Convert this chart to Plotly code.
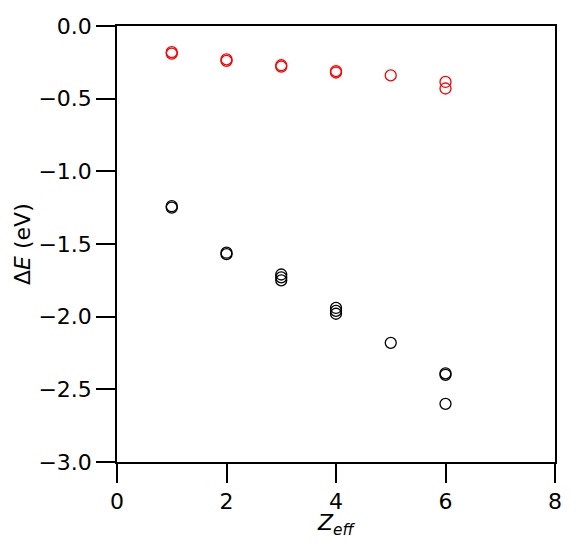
import plotly.graph_objects as go

red_x = [1, 1, 2, 2, 3, 3, 4, 4, 5, 6, 6]
red_y = [-0.18, -0.19, -0.23, -0.24, -0.27, -0.28, -0.31, -0.32, -0.34, -0.385, -0.43]
black_x = [1, 1, 2, 2, 3, 3, 3, 4, 4, 4, 5, 6, 6, 6]
black_y = [-1.24, -1.25, -1.56, -1.57, -1.71, -1.73, -1.75, -1.94, -1.96, -1.98, -2.18, -2.39, -2.40, -2.60]

x_ticks = [0, 2, 4, 6, 8]
y_ticks = [0.0, -0.5, -1.0, -1.5, -2.0, -2.5, -3.0]
x_title = "<i>Z</i><sub><i>eff</i></sub>"
y_title = "Δ<i>E</i> (eV)"

fig = go.Figure()
fig.add_trace(go.Scatter(x=red_x, y=red_y, mode="markers",
                         marker=dict(symbol="circle-open", size=11, color="#ff0000",
                                     line=dict(width=1.3, color="#ff0000")),
                         showlegend=False))
fig.add_trace(go.Scatter(x=black_x, y=black_y, mode="markers",
                         marker=dict(symbol="circle-open", size=11, color="black",
                                     line=dict(width=1.3, color="black")),
                         showlegend=False))

font = dict(family="DejaVu Sans", size=22, color="black")
fig.update_layout(
    width=574, height=535,
    margin=dict(l=109, r=27, t=18, b=81, autoexpand=False),
    plot_bgcolor="white", paper_bgcolor="white",
    font=font,
    xaxis=dict(range=[0, 8], tickvals=x_ticks, ticks="outside", ticklen=19, tickwidth=1.5,
               tickcolor="black", showline=True, linecolor="black", linewidth=1.5,
               mirror=True, showgrid=False, zeroline=False, tickfont=font, automargin=False),
    yaxis=dict(range=[-3, 0], tickvals=y_ticks, tickformat=".1f", ticks="outside", ticklen=19,
               tickwidth=1.5, tickcolor="black", showline=True, linecolor="black", linewidth=1.5,
               mirror=True, showgrid=False, zeroline=False, tickfont=font, automargin=False),
    annotations=[
        dict(text=x_title, xref="paper", yref="paper", x=0.5, y=0, xanchor="center",
             yanchor="middle", yshift=-62, showarrow=False, font=font),
        dict(text=y_title, xref="paper", yref="paper", x=0, y=0.5, xanchor="center",
             yanchor="middle", xshift=-95, textangle=-90, showarrow=False, font=font),
    ],
)

fig.write_html("out.html")
